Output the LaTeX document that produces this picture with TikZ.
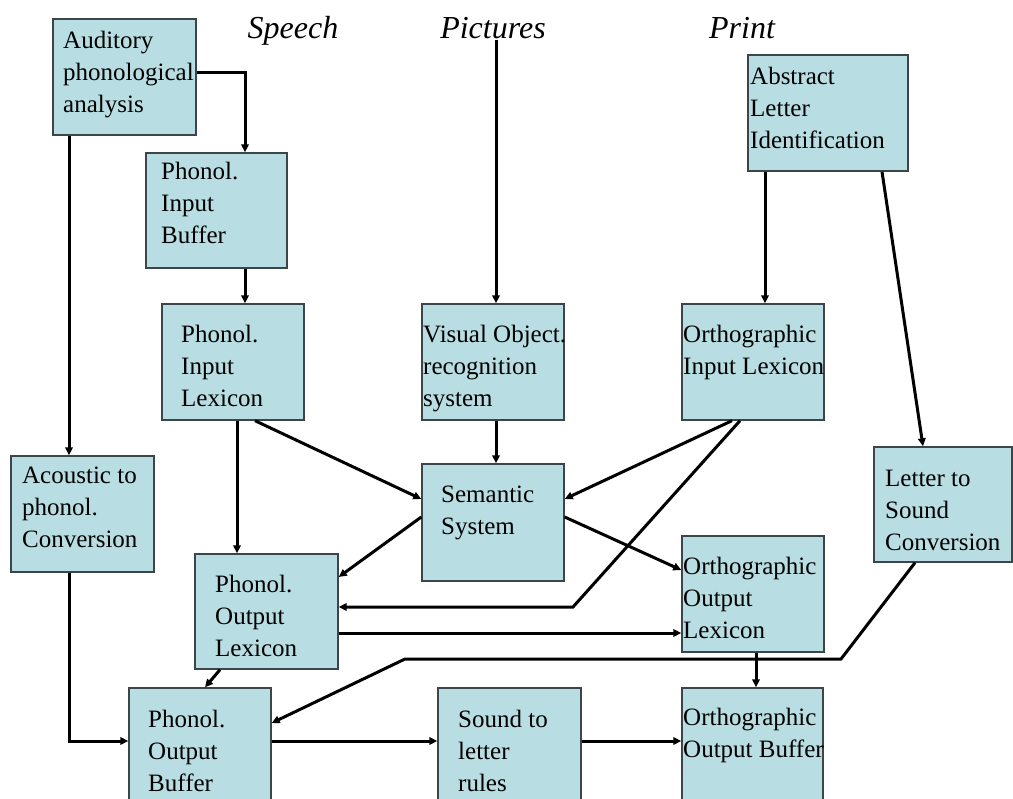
\documentclass[tikz,border=0pt]{standalone}
\usepackage{fontspec}
\setmainfont{Liberation Serif}
\usetikzlibrary{arrows.meta}
\definecolor{boxfill}{RGB}{184,221,226}
\definecolor{boxline}{RGB}{60,70,72}
\tikzset{
  box/.style={draw=boxline, line width=1.4pt, fill=boxfill, inner sep=0pt, rectangle},
  txt/.style={anchor=base west, inner sep=0pt, font=\fontsize{25}{32}\selectfont, align=left},
  head/.style={anchor=base, inner sep=0pt, font=\fontsize{32}{36}\selectfont\itshape},
  arr/.style={line width=3pt, -{Triangle[length=8pt,width=7.5pt]}}
}
\newcommand{\lines}[1]{\begin{tabular}[t]{@{}l@{}}#1\end{tabular}}
\begin{document}
\begin{tikzpicture}[x=1pt,y=-1pt]
\useasboundingbox (0,0) rectangle (1013,799);
\clip (0,0) rectangle (1013,799);
\fill[white] (0,0) rectangle (1013,799);

% headings
\node[head] (speech) at (293,39) {Speech};
\node[head] (pictures) at (493,39) {Pictures};
\node[head] (print) at (742,39) {Print};

% boxes
\node[box, minimum width=143pt, minimum height=116pt] (aud) at (124.5,77) {};
\node[box, minimum width=141pt, minimum height=115pt] (pib) at (216.5,210.5) {};
\node[box, minimum width=142pt, minimum height=116pt] (pil) at (233,362) {};
\node[box, minimum width=143pt, minimum height=116pt] (aco) at (82.5,514) {};
\node[box, minimum width=142pt, minimum height=116pt] (vor) at (493,362) {};
\node[box, minimum width=142pt, minimum height=116pt] (oil) at (753,362) {};
\node[box, minimum width=160pt, minimum height=116pt] (ali) at (828,113) {};
\node[box, minimum width=138pt, minimum height=115pt] (lsc) at (943,504.5) {};
\node[box, minimum width=142pt, minimum height=117pt] (sem) at (493,522.5) {};
\node[box, minimum width=142pt, minimum height=116pt] (ool) at (753,594) {};
\node[box, minimum width=143pt, minimum height=115pt] (pol) at (266.5,611.5) {};
\node[box, minimum width=142pt, minimum height=116pt] (pob) at (200,746) {};
\node[box, minimum width=143pt, minimum height=116pt] (slr) at (509.5,746) {};
\node[box, minimum width=141pt, minimum height=116pt] (oob) at (752.5,746) {};

% texts
\node[txt] (aud-t) at (63,49) {\lines{Auditory\\phonological\\analysis}};
\node[txt] (pib-t) at (161,180) {\lines{Phonol.\\Input\\Buffer}};
\node[txt] (pil-t) at (181,343) {\lines{Phonol.\\Input\\Lexicon}};
\node[txt] (aco-t) at (22,484) {\lines{Acoustic to\\phonol.\\Conversion}};
\node[txt] (vor-t) at (423,343) {\lines{Visual Object.\\recognition\\system}};
\node[txt] (oil-t) at (683,343) {\lines{Orthographic\\Input Lexicon}};
\node[txt] (ali-t) at (750,85) {\lines{Abstract\\Letter\\Identification}};
\node[txt] (lsc-t) at (885,487) {\lines{Letter to\\Sound\\Conversion}};
\node[txt] (sem-t) at (441,503) {\lines{Semantic\\System}};
\node[txt] (ool-t) at (683,575) {\lines{Orthographic\\Output\\Lexicon}};
\node[txt] (pol-t) at (215,593) {\lines{Phonol.\\Output\\Lexicon}};
\node[txt] (pob-t) at (148,727) {\lines{Phonol.\\Output\\Buffer}};
\node[txt] (slr-t) at (458,727) {\lines{Sound to\\letter\\rules}};
\node[txt] (oob-t) at (683,725) {\lines{Orthographic\\Output Buffer}};

% corner points
\coordinate (c1) at (573,607);
\coordinate (c2) at (841,659);
\coordinate (c3) at (405,659);

% connectors
\draw[arr] (aud.east |- 0,73) -| (245,0 |- pib.north);
\draw[arr] (245,0 |- pib.south) -- (245,0 |- pil.north);
\draw[arr] (69,0 |- aud.south) -- (69,0 |- aco.north);
\draw[arr] (496,0 |- pictures.south) -- (496,0 |- vor.north);
\draw[arr] (496,0 |- vor.south) -- (496,0 |- sem.north);
\draw[arr] (765,0 |- ali.south) -- (765,0 |- oil.north);
\draw[arr] (882,0 |- ali.south) -- (923,0 |- lsc.north);
\draw[arr] (237,0 |- pil.south) -- (237,0 |- pol.north);
\draw[arr] (255,0 |- pil.south) -- (sem.west |- 0,499);
\draw[arr] (732,0 |- oil.south) -- (sem.east |- 0,499);
\draw[arr] (740,0 |- oil.south) -- (c1) -- (pol.east |- 0,607);
\draw[arr] (sem.west |- 0,517) -- (pol.east |- 0,577);
\draw[arr] (sem.east |- 0,517) -- (ool.west |- 0,570);
\draw[arr] (pol.east |- 0,633) -- (ool.west |- 0,633);
\draw[arr] (915,0 |- lsc.south) -- (c2) -- (c3) -- (pob.east |- 0,723);
\draw[arr] (220,0 |- pol.south) -- (205,0 |- pob.north);
\draw[arr] (69,0 |- aco.south) |- (pob.west |- 0,741);
\draw[arr] (pob.east |- 0,741) -- (slr.west |- 0,741);
\draw[arr] (slr.east |- 0,741) -- (oob.west |- 0,741);
\draw[arr] (756,0 |- ool.south) -- (756,0 |- oob.north);
\end{tikzpicture}
\end{document}
